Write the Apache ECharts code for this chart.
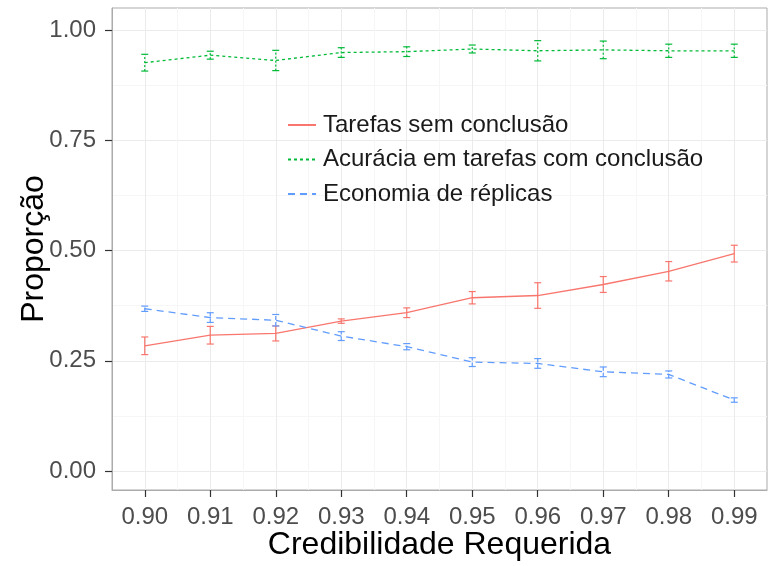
<!DOCTYPE html>
<html>
<head>
<meta charset="utf-8">
<script src="https://cdn.jsdelivr.net/npm/echarts@6/dist/echarts.min.js"></script>
<style>
html,body{margin:0;padding:0;background:#fff;}
#chart{width:773px;height:566px;}
</style>
</head>
<body>
<div id="chart"></div>
<script>
// ---- data ----
var credibilidade = [0.90, 0.91, 0.92, 0.93, 0.94, 0.95, 0.96, 0.97, 0.98, 0.99];
var xTickLabels = ['0.90','0.91','0.92','0.93','0.94','0.95','0.96','0.97','0.98','0.99'];
var yTickValues = [0, 0.25, 0.5, 0.75, 1.0];
var yTickLabels = ['0.00','0.25','0.50','0.75','1.00'];
var xMinorValues = [0.905, 0.915, 0.925, 0.935, 0.945, 0.955, 0.965, 0.975, 0.985];
var yMinorValues = [0.125, 0.375, 0.625, 0.875];

var seriesNames = ['Tarefas sem conclusão', 'Acurácia em tarefas com conclusão', 'Economia de réplicas'];

var tarefasSemConclusao    = [0.284, 0.308, 0.312, 0.340, 0.359, 0.393, 0.398, 0.423, 0.453, 0.493];
var tarefasSemConclusaoErr = [0.020, 0.020, 0.017, 0.005, 0.011, 0.014, 0.029, 0.018, 0.022, 0.019];

var acuracia    = [0.926, 0.943, 0.931, 0.949, 0.951, 0.957, 0.953, 0.955, 0.953, 0.953];
var acuraciaErr = [0.019, 0.009, 0.023, 0.011, 0.011, 0.009, 0.023, 0.020, 0.015, 0.015];

var economia    = [0.368, 0.348, 0.342, 0.306, 0.282, 0.247, 0.244, 0.225, 0.219, 0.161];
var economiaErr = [0.006, 0.011, 0.013, 0.010, 0.007, 0.010, 0.011, 0.011, 0.008, 0.005];

var colors = ['#F8766D', '#00BA38', '#619CFF'];
var dashes = ['solid', [3, 3], [7, 5]];
var errDashes = ['solid', [2, 2], [4, 2]];

function pairs(vals) {
  return credibilidade.map(function (x, i) { return [x, vals[i]]; });
}
function errData(vals, errs) {
  return credibilidade.map(function (x, i) { return [x, vals[i] - errs[i], vals[i] + errs[i]]; });
}
function errSeries(name, vals, errs, color, dash) {
  return {
    name: name,
    type: 'custom',
    data: errData(vals, errs),
    encode: { x: 0, y: [1, 2] },
    z: 3,
    silent: true,
    renderItem: function (params, api) {
      var x = api.value(0), lo = api.value(1), hi = api.value(2);
      var pLo = api.coord([x, lo]);
      var pHi = api.coord([x, hi]);
      var w = 3.5;
      var st = { stroke: color, lineWidth: 1.2, lineDash: dash === 'solid' ? null : dash };
      return {
        type: 'group',
        children: [
          { type: 'line', shape: { x1: pLo[0], y1: pLo[1], x2: pHi[0], y2: pHi[1] }, style: st },
          { type: 'line', shape: { x1: pLo[0] - w, y1: pLo[1], x2: pLo[0] + w, y2: pLo[1] }, style: { stroke: color, lineWidth: 1.2 } },
          { type: 'line', shape: { x1: pHi[0] - w, y1: pHi[1], x2: pHi[0] + w, y2: pHi[1] }, style: { stroke: color, lineWidth: 1.2 } }
        ]
      };
    }
  };
}
function lineSeries(name, vals, color, dash) {
  return {
    name: name,
    type: 'line',
    data: pairs(vals),
    symbol: 'none',
    z: 4,
    lineStyle: { color: color, width: 1.3, type: dash },
    itemStyle: { color: color }
  };
}

var font = 'Liberation Sans, Arial, Helvetica, sans-serif';
var borderColor = '#ababab';

var option = {
  backgroundColor: '#ffffff',
  animation: false,
  grid: {
    left: 112, right: 6, top: 8, bottom: 75,
    show: true, borderColor: borderColor, borderWidth: 1, backgroundColor: '#ffffff'
  },
  legend: {
    orient: 'vertical',
    left: 287, top: 113,
    padding: 0,
    itemWidth: 28, itemHeight: 14, itemGap: 10.5,
    itemStyle: { opacity: 0 },
    data: seriesNames,
    textStyle: { fontFamily: font, fontSize: 24, color: '#1a1a1a', lineHeight: 23, padding: [0, 0, 0, 2] },
    selectedMode: false
  },
  xAxis: [{
    type: 'value',
    min: 0.895, max: 0.995,
    name: 'Credibilidade Requerida',
    nameLocation: 'middle',
    nameGap: 39,
    nameMoveOverlap: false,
    nameTextStyle: { fontFamily: font, fontSize: 32, color: '#000' },
    axisLine: { show: true, onZero: false, lineStyle: { color: borderColor, width: 1 } },
    axisTick: { show: true, inside: false, length: 7, lineStyle: { color: '#333333', width: 1.2 }, customValues: credibilidade },
    axisLabel: {
      fontFamily: font, fontSize: 24, color: '#4d4d4d', margin: 15,
      customValues: credibilidade,
      formatter: function (v) {
        var i = credibilidade.findIndex(function (c) { return Math.abs(c - v) < 1e-6; });
        return i >= 0 ? xTickLabels[i] : '';
      }
    },
    splitLine: { show: true, lineStyle: { color: '#ebebeb', width: 1 } }
  }, {
    type: 'value',
    min: 0.895, max: 0.995,
    position: 'bottom',
    axisLine: { show: false, onZero: false },
    axisTick: { show: false, customValues: xMinorValues },
    axisLabel: { show: false, customValues: xMinorValues },
    splitLine: { show: true, lineStyle: { color: '#f6f6f6', width: 1 } }
  }],
  yAxis: [{
    type: 'value',
    min: -0.043, max: 1.05,
    name: 'Proporção',
    nameLocation: 'middle',
    nameRotate: 90,
    nameGap: 62,
    nameMoveOverlap: false,
    nameTextStyle: { fontFamily: font, fontSize: 32, color: '#000' },
    axisLine: { show: true, onZero: false, lineStyle: { color: borderColor, width: 1 } },
    axisTick: { show: true, inside: false, length: 7, lineStyle: { color: '#333333', width: 1.2 }, customValues: yTickValues },
    axisLabel: {
      fontFamily: font, fontSize: 24, color: '#4d4d4d', margin: 16,
      customValues: yTickValues,
      formatter: function (v) {
        var i = yTickValues.findIndex(function (c) { return Math.abs(c - v) < 1e-6; });
        return i >= 0 ? yTickLabels[i] : '';
      }
    },
    splitLine: { show: true, lineStyle: { color: '#ebebeb', width: 1 } }
  }, {
    type: 'value',
    min: -0.043, max: 1.05,
    position: 'left',
    axisLine: { show: false, onZero: false },
    axisTick: { show: false, customValues: yMinorValues },
    axisLabel: { show: false, customValues: yMinorValues },
    splitLine: { show: true, lineStyle: { color: '#f6f6f6', width: 1 } }
  }],
  series: [
    lineSeries(seriesNames[0], tarefasSemConclusao, colors[0], dashes[0]),
    lineSeries(seriesNames[1], acuracia, colors[1], dashes[1]),
    lineSeries(seriesNames[2], economia, colors[2], dashes[2]),
    errSeries('err0', tarefasSemConclusao, tarefasSemConclusaoErr, colors[0], errDashes[0]),
    errSeries('err1', acuracia, acuraciaErr, colors[1], errDashes[1]),
    errSeries('err2', economia, economiaErr, colors[2], errDashes[2])
  ]
};

var chart = echarts.init(document.getElementById('chart'), null, { renderer: 'canvas' });
chart.setOption(option);
</script>
</body>
</html>
